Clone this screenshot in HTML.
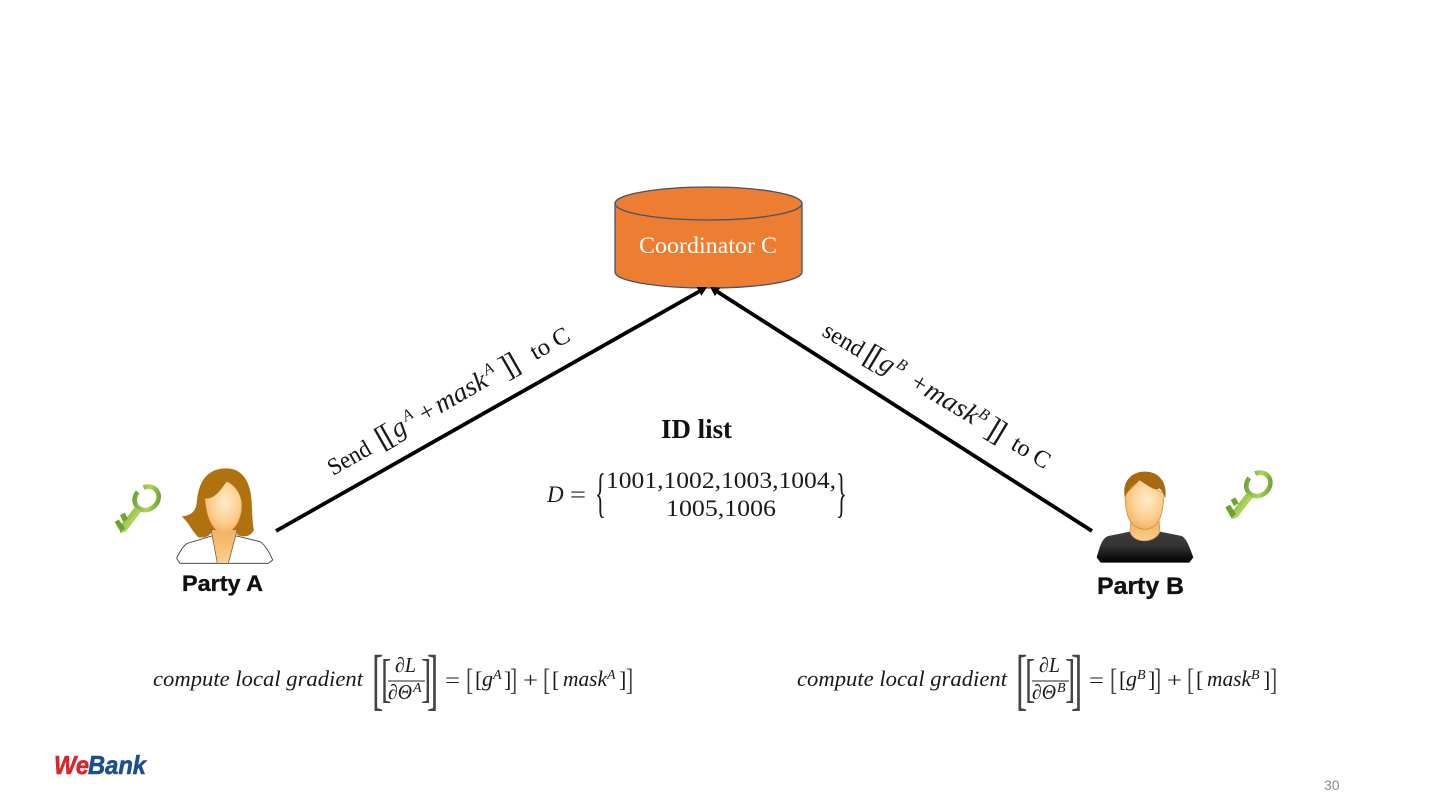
<!DOCTYPE html>
<html lang="en">
<head>
<meta charset="utf-8">
<title>Secure gradient aggregation</title>
<style>
html,body{margin:0;padding:0;width:1440px;height:810px;overflow:hidden;background:#fff}
svg{display:block}
.s{font-family:"Liberation Serif",serif}
.m{font-family:"Liberation Serif",serif;font-style:italic;fill:#1a1a1a}
.n{font-family:"Liberation Serif",serif;fill:#1a1a1a}
.t{font-family:"Liberation Serif",serif;fill:#444}
.b{font-family:"Liberation Sans",sans-serif;font-weight:700;fill:#111;stroke:#111;stroke-width:.35}
</style>
</head>
<body>
<svg width="1440" height="810" viewBox="0 0 1440 810" xmlns="http://www.w3.org/2000/svg">
<defs>
<radialGradient id="skin" cx="55%" cy="40%" r="62%"><stop offset="0" stop-color="#ffebcb"/><stop offset=".6" stop-color="#fcd092"/><stop offset="1" stop-color="#f4b160"/></radialGradient>
<linearGradient id="neck" x1="0" y1="0" x2="0" y2="1"><stop offset="0" stop-color="#f2b05e"/><stop offset="1" stop-color="#fbcf8e"/></linearGradient>
<linearGradient id="shirt" x1="0" y1="0" x2="0" y2="1"><stop offset="0" stop-color="#3e3e3e"/><stop offset=".45" stop-color="#333"/><stop offset="1" stop-color="#000"/></linearGradient>
<linearGradient id="key" x1="0" y1="0" x2="1" y2="1"><stop offset="0" stop-color="#5f9a2c"/><stop offset=".55" stop-color="#b2d45a"/><stop offset="1" stop-color="#5c962a"/></linearGradient>
</defs>

<!-- Cylinder -->
<path d="M615 203 V272 C615 281 657 288 708.500 288 C760 288 802 281 802 272 V203 Z" fill="#ed7d31" stroke="#44546a" stroke-width="1.300"/>
<ellipse cx="708.500" cy="203.500" rx="93.500" ry="16.500" fill="#ed7d31" stroke="#44546a" stroke-width="1.300"/>
<text class="s" x="708" y="253" font-size="23" fill="#fff" text-anchor="middle" textLength="138" lengthAdjust="spacingAndGlyphs">Coordinator C</text>

<!-- Arrows -->
<line x1="276" y1="531" x2="700" y2="291" stroke="#000" stroke-width="3.800"/>
<path d="M707 287 L696.500 287 L701.500 295.700 Z" fill="#000"/>
<line x1="1092" y1="531" x2="717" y2="291.500" stroke="#000" stroke-width="3.800"/>
<path d="M710 287 L720.300 287.700 L714.900 296.100 Z" fill="#000"/>

<!-- Label A -->
<g transform="translate(333,476) rotate(-29.700)">
<text class="s" x="0" y="0" font-size="24" fill="#111" textLength="46" lengthAdjust="spacingAndGlyphs">Send</text>
<text class="n" x="56" y="1" font-size="31">[</text>
<text class="n" x="63" y="1" font-size="31">[</text>
<text class="m" x="74" y="-1" font-size="27">g</text>
<text class="m" x="90" y="-11" font-size="16">A</text>
<text class="n" x="106" y="-1" font-size="26">+</text>
<text class="m" x="124" y="-1" font-size="27" textLength="57" lengthAdjust="spacingAndGlyphs">mask</text>
<text class="m" x="183" y="-11" font-size="16">A</text>
<text class="n" x="199" y="1" font-size="31">]</text>
<text class="n" x="207" y="1" font-size="31">]</text>
<text class="s" x="233" y="0" font-size="24" fill="#111" textLength="42" lengthAdjust="spacingAndGlyphs">to C</text>
</g>

<!-- Label B -->
<g transform="translate(821,335) rotate(31)">
<text class="s" x="0" y="0" font-size="24" fill="#111" textLength="44" lengthAdjust="spacingAndGlyphs">send</text>
<text class="n" x="48" y="1" font-size="31">[</text>
<text class="n" x="55" y="1" font-size="31">[</text>
<text class="m" x="65" y="-1" font-size="27">g</text>
<text class="m" x="80" y="-11" font-size="16">B</text>
<text class="n" x="102" y="-1" font-size="26">+</text>
<text class="m" x="118" y="-1" font-size="27" textLength="58" lengthAdjust="spacingAndGlyphs">mask</text>
<text class="m" x="176" y="-11" font-size="16">B</text>
<text class="n" x="190" y="1" font-size="31">]</text>
<text class="n" x="198" y="1" font-size="31">]</text>
<text class="s" x="220" y="0" font-size="24" fill="#111" textLength="41" lengthAdjust="spacingAndGlyphs">to C</text>
</g>

<!-- ID list -->
<text class="s" x="661" y="438" font-size="27" font-weight="700" fill="#111" textLength="71" lengthAdjust="spacingAndGlyphs">ID list</text>
<text class="m" x="547" y="502" font-size="23">D</text>
<text class="n" x="570" y="502" font-size="23" textLength="16" lengthAdjust="spacingAndGlyphs">=</text>
<text class="n" transform="translate(595,511) scale(.9,2.150)" font-size="25">{</text>
<text class="n" x="606" y="488" font-size="23.500" textLength="230" lengthAdjust="spacingAndGlyphs">1001,1002,1003,1004,</text>
<text class="n" x="666" y="516" font-size="23.500" textLength="110" lengthAdjust="spacingAndGlyphs">1005,1006</text>
<text class="n" transform="translate(836,511) scale(.9,2.150)" font-size="25">}</text>

<!-- Party A -->
<g transform="translate(100,450) scale(.33333)">
<path d="M335 258 L262 280 C245 290 235 315 230 325 L240 340 L505 340 L518 330 C505 300 495 285 480 275 L410 258 Z" fill="#fff" stroke="#333" stroke-width="2.500"/>
<path d="M380 55 C320 55 295 95 290 160 C285 190 270 195 245 200 C265 215 270 235 295 262 C320 265 335 255 335 240 L410 240 L412 255 C430 262 450 262 462 240 C455 210 458 170 452 130 C445 85 420 55 380 55 Z" fill="#b0720f"/>
<path d="M333 238 L352 340 L385 340 L412 238 Z" fill="url(#neck)" stroke="#5a4a30" stroke-width="2"/>
<path d="M315 145 C345 150 365 115 380 95 C405 105 425 135 425 165 C425 215 400 245 375 250 C345 250 320 215 315 145 Z" fill="url(#skin)"/>
<g>
<ellipse cx="140" cy="145" rx="38" ry="33" fill="none" stroke="url(#key)" stroke-width="14" stroke-dasharray="200 22" stroke-dashoffset="42" transform="rotate(-40 140 145)"/>
<path d="M106 170 L60 228 L60 250 L78 244 L122 186 Z" fill="url(#key)"/>
<path d="M60 196 L74 188 L84 206 L70 216 Z M44 216 L56 208 L76 236 L62 246 Z" fill="#6aa32f"/>
</g>
</g>
<text class="b" x="182" y="591" font-size="22" textLength="81" lengthAdjust="spacingAndGlyphs">Party A</text>

<!-- Party B -->
<g transform="translate(1080,450) scale(.33333)">
<path d="M50 322 C60 290 65 265 85 258 L150 245 L240 245 L305 258 C320 265 330 295 340 322 L328 338 L62 338 Z" fill="url(#shirt)"/>
<path d="M150 245 C160 282 225 282 240 245 L237 210 L153 210 Z" fill="url(#neck)" stroke="#c48a3c" stroke-width="2"/>
<path d="M135 130 C135 200 150 235 195 238 C240 235 250 190 252 130 C240 125 200 100 178 90 C165 105 145 125 135 130 Z" fill="url(#skin)" stroke="#c48a3c" stroke-width="2"/>
<path d="M135 143 C125 100 150 65 195 65 C240 65 262 100 256 145 C250 130 245 120 238 115 C225 125 200 105 178 90 C165 105 145 115 135 143 Z" fill="#a86a10"/>
<g>
<ellipse cx="535" cy="103" rx="38" ry="33" fill="none" stroke="url(#key)" stroke-width="14" stroke-dasharray="200 22" stroke-dashoffset="42" transform="rotate(-40 535 103)"/>
<path d="M501 128 L456 186 L454 208 L472 202 L517 144 Z" fill="url(#key)"/>
<path d="M452 150 L466 142 L476 160 L462 168 Z M436 172 L450 164 L468 192 L454 204 Z" fill="#6aa32f"/>
</g>
</g>
<text class="b" x="1097" y="594" font-size="24" textLength="87" lengthAdjust="spacingAndGlyphs">Party B</text>

<!-- Formula A -->
<g>
<text class="m" x="153" y="686" font-size="22" textLength="210" lengthAdjust="spacingAndGlyphs">compute local gradient</text>
<text class="t" transform="translate(372,702) scale(.5,1)" font-size="68">[</text>
<text class="t" transform="translate(381,696) scale(.5,.85)" font-size="62">[</text>
<text class="t" transform="translate(421,696) scale(.5,.85)" font-size="62">]</text>
<text class="t" transform="translate(427,702) scale(.5,1)" font-size="68">]</text>
<text class="m" x="395" y="672" font-size="21" textLength="21" lengthAdjust="spacingAndGlyphs">∂L</text>
<line x1="388" y1="681" x2="425" y2="681" stroke="#222" stroke-width="1"/>
<text class="m" x="388" y="699" font-size="21" textLength="24" lengthAdjust="spacingAndGlyphs">∂Θ</text>
<text class="m" x="413" y="692" font-size="14">A</text>
<text class="n" x="445" y="687" font-size="21" textLength="15" lengthAdjust="spacingAndGlyphs">=</text>
<text class="t" transform="translate(466,690) scale(.7,1)" font-size="31">[</text>
<text class="n" x="475" y="687" font-size="22">[</text>
<text class="m" x="482" y="686" font-size="22">g</text>
<text class="m" x="493" y="679" font-size="14">A</text>
<text class="n" x="504" y="687" font-size="22">]</text>
<text class="t" transform="translate(510,690) scale(.7,1)" font-size="31">]</text>
<text class="n" x="523" y="687" font-size="21" textLength="15" lengthAdjust="spacingAndGlyphs">+</text>
<text class="t" transform="translate(543,690) scale(.7,1)" font-size="31">[</text>
<text class="n" x="552" y="687" font-size="22">[</text>
<text class="m" x="563" y="686" font-size="22" textLength="44" lengthAdjust="spacingAndGlyphs">mask</text>
<text class="m" x="607" y="679" font-size="14">A</text>
<text class="n" x="619" y="687" font-size="22">]</text>
<text class="t" transform="translate(626,690) scale(.7,1)" font-size="31">]</text>
</g>

<!-- Formula B -->
<g transform="translate(644,0)">
<text class="m" x="153" y="686" font-size="22" textLength="210" lengthAdjust="spacingAndGlyphs">compute local gradient</text>
<text class="t" transform="translate(372,702) scale(.5,1)" font-size="68">[</text>
<text class="t" transform="translate(381,696) scale(.5,.85)" font-size="62">[</text>
<text class="t" transform="translate(421,696) scale(.5,.85)" font-size="62">]</text>
<text class="t" transform="translate(427,702) scale(.5,1)" font-size="68">]</text>
<text class="m" x="395" y="672" font-size="21" textLength="21" lengthAdjust="spacingAndGlyphs">∂L</text>
<line x1="388" y1="681" x2="425" y2="681" stroke="#222" stroke-width="1"/>
<text class="m" x="388" y="699" font-size="21" textLength="24" lengthAdjust="spacingAndGlyphs">∂Θ</text>
<text class="m" x="413" y="692" font-size="14">B</text>
<text class="n" x="445" y="687" font-size="21" textLength="15" lengthAdjust="spacingAndGlyphs">=</text>
<text class="t" transform="translate(466,690) scale(.7,1)" font-size="31">[</text>
<text class="n" x="475" y="687" font-size="22">[</text>
<text class="m" x="482" y="686" font-size="22">g</text>
<text class="m" x="493" y="679" font-size="14">B</text>
<text class="n" x="504" y="687" font-size="22">]</text>
<text class="t" transform="translate(510,690) scale(.7,1)" font-size="31">]</text>
<text class="n" x="523" y="687" font-size="21" textLength="15" lengthAdjust="spacingAndGlyphs">+</text>
<text class="t" transform="translate(543,690) scale(.7,1)" font-size="31">[</text>
<text class="n" x="552" y="687" font-size="22">[</text>
<text class="m" x="563" y="686" font-size="22" textLength="44" lengthAdjust="spacingAndGlyphs">mask</text>
<text class="m" x="607" y="679" font-size="14">B</text>
<text class="n" x="619" y="687" font-size="22">]</text>
<text class="t" transform="translate(626,690) scale(.7,1)" font-size="31">]</text>
</g>

<!-- Logo -->
<text x="54" y="774" font-family="'Liberation Sans',sans-serif" font-weight="700" font-style="italic" font-size="26" fill="#d9262c" stroke="#d9262c" stroke-width=".6" textLength="35" lengthAdjust="spacingAndGlyphs">We</text>
<text x="88" y="774" font-family="'Liberation Sans',sans-serif" font-weight="700" font-style="italic" font-size="26" fill="#1d4e8f" stroke="#1d4e8f" stroke-width=".6" textLength="58" lengthAdjust="spacingAndGlyphs">Bank</text>

<!-- Page number -->
<text x="1324" y="790" font-family="'Liberation Sans',sans-serif" font-size="14" fill="#8a8a8a">30</text>
</svg>
</body>
</html>
